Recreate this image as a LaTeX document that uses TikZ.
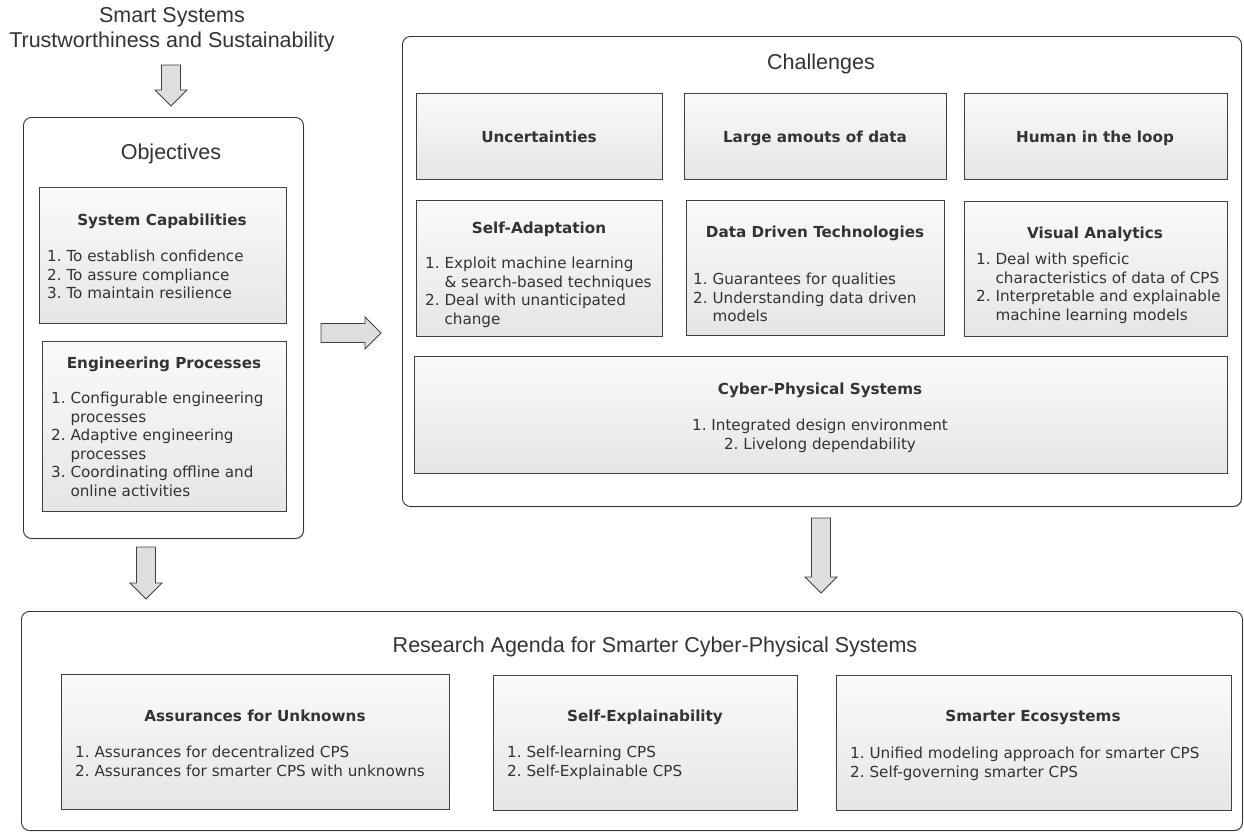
\documentclass[tikz,border=0pt]{standalone}
\usepackage{fontspec}
\setmainfont{DejaVu Sans}
\newfontfamily\headfont{Liberation Sans}
\usetikzlibrary{shadows}

\tikzset{
  frame/.style={draw=black!80, line width=0.9pt, rounded corners=8pt, fill=white,
    anchor=north west, inner sep=0pt,
    drop shadow={shadow xshift=0.8pt, shadow yshift=-0.8pt, opacity=0.35}},
  card/.style={draw=black!75, line width=0.9pt, top color=white!98!black, bottom color=white!90!black,
    anchor=north west, inner sep=0pt,
    drop shadow={shadow xshift=0.8pt, shadow yshift=-0.8pt, opacity=0.45}},
  cardtitle/.style={font=\fontsize{15.2}{18.5}\selectfont\bfseries, text=black!80, inner sep=0pt,
    text height=11.5pt, text depth=3.5pt},
  cardlist/.style={font=\fontsize{15.2}{18.5}\selectfont, text=black!80, align=left,
    anchor=north west, inner sep=0pt},
  headline/.style={font=\headfont\fontsize{21.5}{25}\selectfont, text=black!80, inner sep=0pt,
    align=center},
  blockarr/.style={draw=black!75, line width=0.8pt, fill=black!13, line join=miter}
}
\newcommand{\hang}{\phantom{1.\ }}
% block arrow: start, length, angle
\newcommand{\blockarrow}[3]{%
  \draw[blockarr, shift={#1}, rotate=#3] (0,-9.5) -- ({#2-16},-9.5) -- ({#2-16},-16) -- (#2,0)
    -- ({#2-16},16) -- ({#2-16},9.5) -- (0,9.5) -- cycle;}

\begin{document}
\frenchspacing
\begin{tikzpicture}[x=1pt, y=-1pt]
  \useasboundingbox (0,0) rectangle (1244,838);

  % goal
  \node[headline] (goal) at (172,30) {Smart Systems\\Trustworthiness and Sustainability};
  \coordinate (arrGoal) at (171,65);
  \blockarrow{(arrGoal)}{41}{-90}

  % objectives
  \node[frame, minimum width=280, minimum height=421] (obj) at (23,117) {};
  \node[headline] (objT) at (171,154) {Objectives};

  \node[card, minimum width=247, minimum height=136] (cap) at (39,187) {};
  \node[cardtitle] (capT) at (162,221) {System Capabilities};
  \node[cardlist] (capL) at (47,250) {1. To establish confidence\\2. To assure compliance\\3. To maintain resilience};

  \node[card, minimum width=244, minimum height=170] (eng) at (42,341) {};
  \node[cardtitle] (engT) at (164,364) {Engineering Processes};
  \node[cardlist] (engL) at (51,392) {1. Configurable engineering\\\hang processes\\2. Adaptive engineering\\\hang processes\\3. Coordinating offline and\\\hang online activities};

  \coordinate (arrObj) at (321,333);
  \blockarrow{(arrObj)}{60}{0}

  % challenges
  \node[frame, minimum width=839, minimum height=470] (chl) at (402,36) {};
  \node[headline] (chlT) at (821,64) {Challenges};

  \node[card, minimum width=246, minimum height=86] (unc) at (416,93) {};
  \node[cardtitle] (uncT) at (539,138) {Uncertainties};
  \node[card, minimum width=262, minimum height=86] (dat) at (684,93) {};
  \node[cardtitle] (datT) at (815,138) {Large amouts of data};
  \node[card, minimum width=263, minimum height=86] (hum) at (964,93) {};
  \node[cardtitle] (humT) at (1095,138) {Human in the loop};

  \node[card, minimum width=246, minimum height=136] (ada) at (416,200) {};
  \node[cardtitle] (adaT) at (539,229) {Self-Adaptation};
  \node[cardlist] (adaL) at (425,257) {1. Exploit machine learning\\\hang\& search-based techniques\\2. Deal with unanticipated\\\hang change};

  \node[card, minimum width=258, minimum height=135] (ddt) at (686,200) {};
  \node[cardtitle] (ddtT) at (815,233) {Data Driven Technologies};
  \node[cardlist] (ddtL) at (693,273) {1. Guarantees for qualities\\2. Understanding data driven\\\hang models};

  \node[card, minimum width=263, minimum height=135] (vis) at (964,201) {};
  \node[cardtitle] (visT) at (1095,234) {Visual Analytics};
  \node[cardlist] (visL) at (976,253) {1. Deal with speficic\\\hang characteristics of data of CPS\\2. Interpretable and explainable\\\hang machine learning models};

  \node[card, minimum width=813, minimum height=117] (cps) at (414,356) {};
  \node[cardtitle] (cpsT) at (820,390) {Cyber-Physical Systems};
  \node[cardlist, align=center, anchor=north] (cpsL) at (820,419) {1. Integrated design environment\\2. Livelong dependability};

  \coordinate (arrChl) at (821,518);
  \blockarrow{(arrChl)}{75}{-90}
  \coordinate (arrObj2) at (146,547);
  \blockarrow{(arrObj2)}{52}{-90}

  % research agenda
  \node[frame, minimum width=1221, minimum height=219] (agd) at (21,611) {};
  \node[headline] (agdT) at (655,647) {Research Agenda for Smarter Cyber-Physical Systems};

  \node[card, minimum width=388, minimum height=135] (asu) at (61,674) {};
  \node[cardtitle] (asuT) at (255,717) {Assurances for Unknowns};
  \node[cardlist] (asuL) at (75,746) {1. Assurances for decentralized CPS\\2. Assurances for smarter CPS with unknowns};

  \node[card, minimum width=304, minimum height=135] (sex) at (493,675) {};
  \node[cardtitle] (sexT) at (645,717) {Self-Explainability};
  \node[cardlist] (sexL) at (507,746) {1. Self-learning CPS\\2. Self-Explainable CPS};

  \node[card, minimum width=395, minimum height=135] (eco) at (836,675) {};
  \node[cardtitle] (ecoT) at (1033,717) {Smarter Ecosystems};
  \node[cardlist] (ecoL) at (850,747) {1. Unified modeling approach for smarter CPS\\2. Self-governing smarter CPS};
\end{tikzpicture}
\end{document}
